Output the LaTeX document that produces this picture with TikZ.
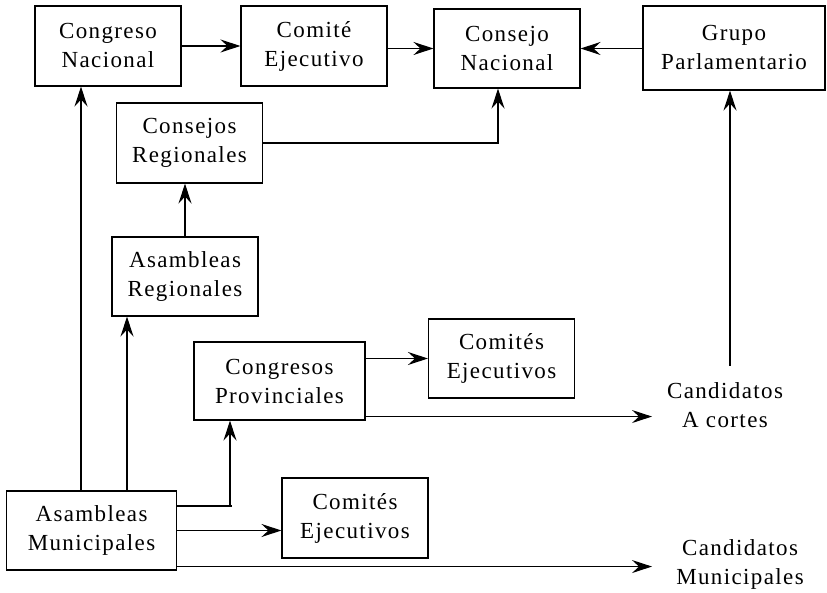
\documentclass[tikz,border=0pt]{standalone}
\usepackage{fontspec}
\setmainfont{Liberation Serif}[LetterSpace=6]
\usetikzlibrary{arrows.meta}
\begin{document}
\begin{tikzpicture}[x=1pt,y=-1pt,
  box/.style={draw,line width=1.1pt,align=center,inner sep=0pt,minimum width=146pt,minimum height=80pt,font=\fontsize{23}{29}\selectfont},
  lbl/.style={align=center,inner sep=0pt,font=\fontsize{23}{29}\selectfont},
  arr/.style={line width=1.1pt,-{Stealth[length=20pt,width=13pt,inset=7pt]}},
  ln/.style={line width=1.1pt}]
\useasboundingbox (0,0) rectangle (827,593);
\node[box] (cn) at (108,46) {Congreso\\Nacional};
\node[box] (ce) at (314,46) {Comité\\Ejecutivo};
\node[box,minimum height=79pt] (cnn) at (507,48.5) {Consejo\\Nacional};
\node[box,minimum width=182pt,minimum height=84pt] (gp) at (734,48) {Grupo\\Parlamentario};
\node[box] (cr) at (189.5,143) {Consejos\\Regionales};
\node[box,minimum height=79pt] (ar) at (185,276.5) {Asambleas\\Regionales};
\node[box,minimum width=171pt,minimum height=78pt] (cp) at (279.5,381) {Congresos\\Provinciales};
\node[box,minimum height=79pt] (cet) at (501.5,358.5) {Comités\\Ejecutivos};
\node[lbl] (cac) at (725,405) {Candidatos\\A cortes};
\node[box,minimum width=170pt,minimum height=79pt] (am) at (91.5,530.5) {Asambleas\\Municipales};
\node[box] (ceb) at (355,518) {Comités\\Ejecutivos};
\node[lbl] (cm) at (740,564) {Candidatos\\Municipales};
% helper coordinates
\coordinate (v1) at (81,0);
\coordinate (v2) at (127,0);
\coordinate (j) at (230,506);
\coordinate (tin) at (652,0);
\coordinate (gv) at (730,366);
% top row
\draw[arr] (cn.east) -- (ce.west);
\draw[arr] (ce.east |- cnn.west) -- (cnn.west);
\draw[arr] (gp.west |- cnn.east) -- (cnn.east);
\draw[arr] (cr.east) -| ([xshift=-9pt]cnn.south);
\draw[arr] (gv) -- (gv |- gp.south);
% verticals from municipal assemblies
\draw[arr] (v1 |- am.north) -- (v1 |- cn.south);
\draw[arr] (v2 |- am.north) -- (v2 |- ar.south);
\draw[arr] (ar.north) -- (ar.north |- cr.south);
\draw[ln] (am.east |- j) -- ([xshift=2pt]j);
\draw[arr] (j) -- (j |- cp.south);
\draw[arr] (am.east) -- (am.east -| ceb.west);
\path ([yshift=4pt]am.south east) coordinate (amb);
\draw[arr] (amb) -- (amb -| tin);
% provincial congresses
\draw[arr] (cet.west -| cp.east) -- (cet.west);
\path ([yshift=4pt]cp.south east) coordinate (cpb);
\draw[arr] (cpb) -- (cpb -| tin);
\end{tikzpicture}
\end{document}
